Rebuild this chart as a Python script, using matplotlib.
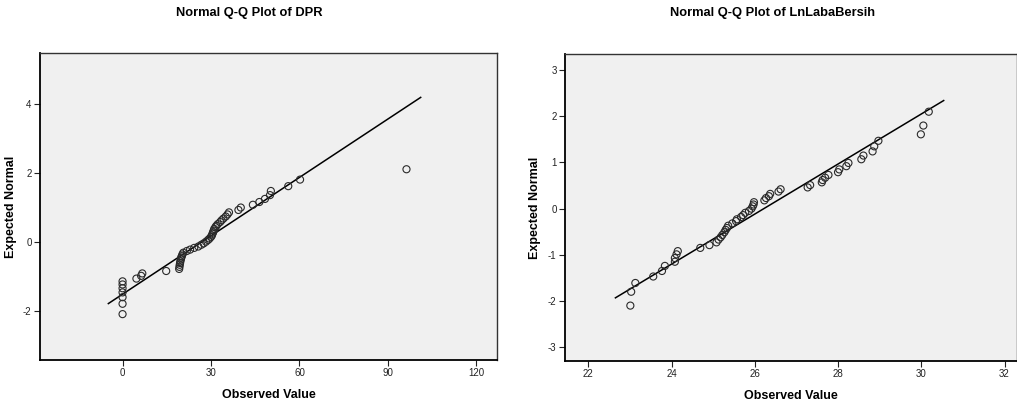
import numpy as np
import matplotlib
matplotlib.use("Agg")
import matplotlib.pyplot as plt

# Expected normal scores (Van der Waerden ranks, n = 55)
expected_normal = [-2.10, -1.80, -1.61, -1.47, -1.35, -1.24, -1.15, -1.07, -0.99, -0.92,
                   -0.85, -0.79, -0.73, -0.67, -0.62, -0.57, -0.51, -0.46, -0.42, -0.37,
                   -0.32, -0.27, -0.23, -0.18, -0.14, -0.09, -0.05, 0.00, 0.05, 0.09,
                   0.14, 0.18, 0.23, 0.27, 0.32, 0.37, 0.42, 0.46, 0.51, 0.57,
                   0.62, 0.67, 0.73, 0.79, 0.85, 0.92, 0.99, 1.07, 1.15, 1.24,
                   1.35, 1.47, 1.61, 1.80, 2.10]

dpr_observed = [0.0, 0.0, 0.0, 0.0, 0.0, 0.0, 0.0, 4.7, 6.3, 6.7,
                14.8, 19.2, 19.3, 19.4, 19.5, 19.6, 19.8, 19.9, 20.1, 20.3,
                20.6, 21.8, 22.9, 24.3, 25.7, 26.7, 27.5, 28.3, 29.0, 29.5,
                30.0, 30.3, 30.5, 30.7, 30.9, 31.1, 31.5, 31.8, 32.3, 33.1,
                33.6, 34.2, 35.0, 35.6, 36.1, 39.3, 40.1, 44.2, 46.4, 48.3,
                50.0, 50.3, 56.2, 60.2, 96.3]

laba_observed = [23.01, 23.03, 23.13, 23.56, 23.77, 23.84, 24.08, 24.08, 24.12, 24.15,
                 24.69, 24.91, 25.08, 25.13, 25.18, 25.22, 25.27, 25.30, 25.33, 25.36,
                 25.46, 25.55, 25.57, 25.67, 25.72, 25.77, 25.86, 25.92, 25.95, 25.97,
                 25.98, 26.23, 26.27, 26.34, 26.37, 26.57, 26.62, 27.27, 27.33, 27.61,
                 27.63, 27.69, 27.77, 28.00, 28.03, 28.20, 28.25, 28.56, 28.61, 28.83,
                 28.87, 28.97, 29.99, 30.05, 30.18]

titles = ["Normal Q-Q Plot of DPR", "Normal Q-Q Plot of LnLabaBersih"]
dpr_xticks = [0, 30, 60, 90, 120]
dpr_yticks = [-2, 0, 2, 4]
laba_xticks = [22, 24, 26, 28, 30, 32]
laba_yticks = [-3, -2, -1, 0, 1, 2, 3]

plt.rcParams['font.family'] = ['Liberation Sans', 'DejaVu Sans']
plt.rcParams['axes.unicode_minus'] = False

W, H = 1017, 405
fig = plt.figure(figsize=(W / 100, H / 100), dpi=100)
fig.patch.set_facecolor('white')


def make_axes(x0, x1, y0, y1):
    return fig.add_axes([x0 / W, 1 - y1 / H, (x1 - x0) / W, (y1 - y0) / H])


def qq_panel(ax, obs, xlim, ylim, xticks, yticks, ylab_x):
    obs = np.asarray(obs, dtype=float)
    exp = np.asarray(expected_normal, dtype=float)
    ax.set_facecolor('#F0F0F0')
    m, s = obs.mean(), obs.std(ddof=1)
    rng = obs.max() - obs.min()
    lx = np.array([obs.min() - 0.05 * rng, obs.max() + 0.05 * rng])
    ax.plot(lx, (lx - m) / s, color='black', lw=1.1, zorder=2)
    ax.scatter(obs, exp, s=26, facecolors='none', edgecolors='#2a2a2a',
               linewidths=0.8, zorder=3)
    ax.set_xlim(*xlim)
    ax.set_ylim(*ylim)
    ax.set_xticks(xticks)
    ax.set_yticks(yticks)
    ax.tick_params(axis='both', direction='out', length=4, width=0.8,
                   labelsize=7, colors='#222222', pad=2)
    for side in ['left', 'bottom']:
        ax.spines[side].set_linewidth(1.3)
        ax.spines[side].set_color('black')
    for side in ['top', 'right']:
        ax.spines[side].set_linewidth(1.0)
        ax.spines[side].set_color('#333333')
    ax.set_xlabel('Observed Value', fontsize=9, fontweight='bold', labelpad=8)
    ax.set_ylabel('Expected Normal', fontsize=9, fontweight='bold')
    ax.yaxis.set_label_coords(ylab_x, 0.5)


ax1 = make_axes(40, 497, 53, 360)
qq_panel(ax1, dpr_observed, (-28, 127), (-3.43, 5.47), dpr_xticks, dpr_yticks,
         (17 - 40) / 457)
ax2 = make_axes(565, 1017, 54, 361)
qq_panel(ax2, laba_observed, (21.44, 32.3), (-3.3, 3.35), laba_xticks, laba_yticks,
         (541 - 565) / 452)

fig.text(249 / W, 1 - 13 / H, titles[0], ha='center', va='center',
         fontsize=9.3, fontweight='bold')
fig.text(773 / W, 1 - 13 / H, titles[1], ha='center', va='center',
         fontsize=9.3, fontweight='bold')

fig.savefig('out.png', dpi=100, facecolor='white')
